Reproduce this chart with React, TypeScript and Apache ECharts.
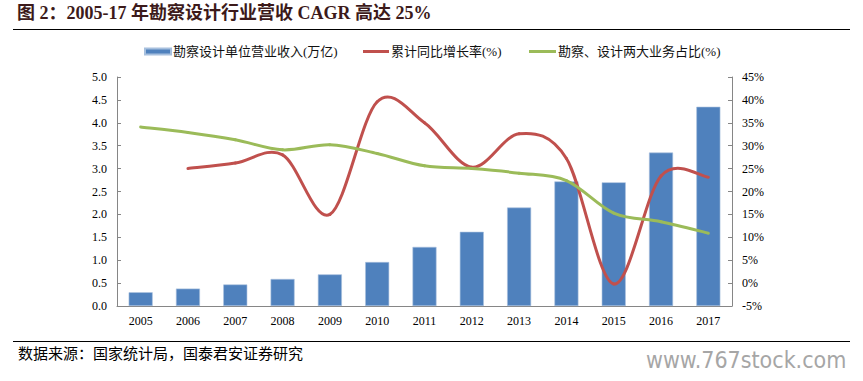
import React, { useEffect, useRef } from "react";
import * as echarts from "echarts";

const years = ["2005", "2006", "2007", "2008", "2009", "2010", "2011", "2012", "2013", "2014", "2015", "2016", "2017"];
const revenue = [0.3, 0.38, 0.47, 0.59, 0.69, 0.96, 1.29, 1.62, 2.15, 2.72, 2.7, 3.35, 4.35];
const cumGrowth: (number | null)[] = [null, 25.0, 26.2, 28.0, 15.0, 39.6, 35.0, 25.3, 32.6, 27.2, -0.2, 23.4, 23.1];
const share: (number | null)[] = [34.1, 32.9, 31.3, 29.1, 30.2, 28.3, 25.6, 25.0, 24.0, 22.4, 15.3, 13.4, 10.9];

const seriesNames = ["勘察设计单位营业收入(万亿)", "累计同比增长率(%)", "勘察、设计两大业务占比(%)"];
const titleText = "图 2：2005-17 年勘察设计行业营收 CAGR 高达 25%";
const sourceText = "数据来源：国家统计局，国泰君安证券研究";
const watermark = "www.767stock.com";

const serif = "'Liberation Serif', 'Noto Sans CJK SC', serif";

function smoothLineSeries(name: string, values: (number | null)[], color: string) {
  return {
    name,
    type: "custom",
    coordinateSystem: "cartesian2d",
    yAxisIndex: 1,
    clip: false,
    z: 5,
    itemStyle: { color },
    data: values.map((v, i) => [i, v == null ? "-" : v]),
    encode: { x: 0, y: 1 },
    renderItem: (params: any, api: any) => {
      const i = params.dataIndex;
      const n = values.length;
      if (values[i] == null || i + 1 >= n || values[i + 1] == null) {
        return { type: "group", children: [] };
      }
      const valid = (k: number) => k >= 0 && k < n && values[k] != null;
      const pt = (k: number) => api.coord([k, values[k] as number]);
      const p1 = pt(i);
      const p2 = pt(i + 1);
      const p0 = valid(i - 1) ? pt(i - 1) : p1;
      const p3 = valid(i + 2) ? pt(i + 2) : p2;
      const t = 1 / 6;
      return {
        type: "bezierCurve",
        z2: 10,
        shape: {
          x1: p1[0],
          y1: p1[1],
          cpx1: p1[0] + (p2[0] - p0[0]) * t,
          cpy1: p1[1] + (p2[1] - p0[1]) * t,
          cpx2: p2[0] - (p3[0] - p1[0]) * t,
          cpy2: p2[1] - (p3[1] - p1[1]) * t,
          x2: p2[0],
          y2: p2[1],
        },
        style: { stroke: color, lineWidth: 3, fill: null, lineCap: "round" },
      };
    },
  };
}

export default function App() {
  const ref = useRef<HTMLDivElement>(null);
  useEffect(() => {
    if (!ref.current) return;
    const chart = echarts.init(ref.current, null, { renderer: "svg" });
    const axisLineColor = "#868686";
    const legendBase = {
      top: 45,
      padding: 0,
      itemGap: 0,
      textStyle: { fontSize: 13, fontFamily: serif, color: "#111", padding: [0, 0, 0, -3] },
      selectedMode: false,
    };
    chart.setOption({
      animation: false,
      backgroundColor: "#fff",
      grid: { left: 117, right: 131, top: 77, bottom: 75 },
      legend: [
        { ...legendBase, left: 144, data: [{ name: seriesNames[0], icon: "rect" }], itemWidth: 26, itemHeight: 6 },
        { ...legendBase, left: 363, data: [{ name: seriesNames[1], icon: "rect" }], itemWidth: 26, itemHeight: 3 },
        { ...legendBase, left: 529, data: [{ name: seriesNames[2], icon: "rect" }], itemWidth: 27, itemHeight: 3 },
      ],
      xAxis: {
        type: "category",
        data: years,
        boundaryGap: true,
        axisLine: { lineStyle: { color: axisLineColor, width: 1 } },
        axisTick: { inside: true, length: 4, lineStyle: { color: axisLineColor } },
        axisLabel: { color: "#000", fontSize: 12, fontFamily: serif, margin: 9 },
      },
      yAxis: [
        {
          type: "value",
          min: 0,
          max: 5,
          interval: 0.5,
          splitLine: { show: false },
          axisLine: { show: true, lineStyle: { color: axisLineColor } },
          axisTick: { show: true, inside: true, length: 4, lineStyle: { color: axisLineColor } },
          axisLabel: { color: "#000", fontSize: 12, fontFamily: serif, margin: 10, formatter: (v: number) => v.toFixed(1) },
        },
        {
          type: "value",
          min: -5,
          max: 45,
          interval: 5,
          splitLine: { show: false },
          axisLine: { show: true, lineStyle: { color: axisLineColor } },
          axisTick: { show: true, inside: true, length: 4, lineStyle: { color: axisLineColor } },
          axisLabel: { color: "#000", fontSize: 12, fontFamily: serif, margin: 10, formatter: (v: number) => `${v}%` },
        },
      ],
      series: [
        {
          name: seriesNames[0],
          type: "bar",
          z: 2,
          data: revenue,
          barWidth: 24,
          itemStyle: { color: "#4f81bd", borderColor: "#a7c0de", borderWidth: 0.6 },
        },
        smoothLineSeries(seriesNames[1], cumGrowth, "#c0504d"),
        smoothLineSeries(seriesNames[2], share, "#9bbb59"),
      ],
      graphic: [
        {
          type: "text",
          left: 17,
          top: 4,
          style: { text: titleText, fontSize: 18, fontWeight: "bold", fontFamily: serif, fill: "#3c1a1a" },
        },
        { type: "line", shape: { x1: 13, y1: 29.5, x2: 850, y2: 29.5 }, style: { stroke: "#000", lineWidth: 1 } },
        { type: "line", shape: { x1: 13, y1: 341.5, x2: 850, y2: 341.5 }, style: { stroke: "#000", lineWidth: 1 } },
        {
          type: "text",
          left: 18,
          top: 346,
          style: { text: sourceText, fontSize: 15, fontFamily: serif, fill: "#000" },
        },
        {
          type: "text",
          left: 646,
          top: 348,
          style: { text: watermark, fontSize: 23, fontFamily: "'DejaVu Sans Condensed', 'DejaVu Sans', sans-serif", fill: "#a6a6a6" },
        },
      ],
    });
    return () => chart.dispose();
  }, []);
  return <div ref={ref} style={{ position: "fixed", left: 0, top: 0, width: 863, height: 381 }} />;
}
